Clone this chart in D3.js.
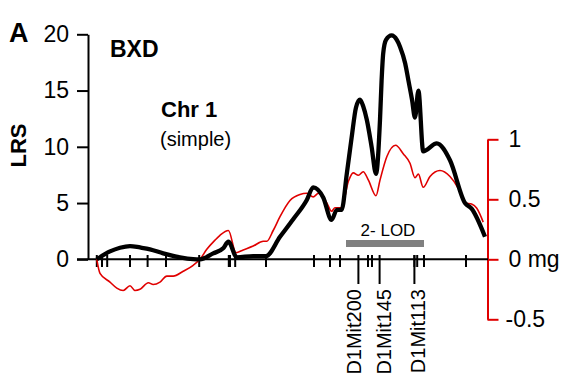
<!DOCTYPE html>
<html><head><meta charset="utf-8">
<script src="https://cdn.jsdelivr.net/npm/d3@7"></script>
<style>body{margin:0;background:#fff}svg{display:block}text{font-family:"Liberation Sans",Arial,Helvetica,sans-serif}</style>
</head><body>
<svg id="chart" width="567" height="387"></svg>
<script>
// ---- data (position along Chr 1 in cM) ----
const lrsCM = [2.2,5.5,8.0,10.5,13.0,15.5,18.8,23.0,26.3,28.0,31.3,33.8,35.1,37.2,41.3,44.5,48.0,51.3,54.7,56.3,58.8,60.9,62.2,63.4,64.7,65.9,67.0,68.0,68.8,69.7,70.9,72.0,73.0,73.4,73.8,74.5,75.9,77.2,78.0,79.3,80.1,81.0,81.75,82.6,83.8,87.2,90.5,94.25,95.9,99.25];
const lrsValues = [0,0.7,1.03,1.18,1.05,0.89,0.53,0.18,0.02,0,0.53,0.98,1.56,0.18,0.29,0.29,2.0,3.56,5.27,6.4,5.5,3.5,4.4,4.4,7.6,10.8,13.5,14.2,13.6,12.4,10.0,7.6,12.4,15.9,18.3,19.5,19.9,19.5,18.9,17.4,15.9,14.2,12.6,15.0,9.6,10.3,8.8,5.0,4.5,2.0];
const mgCM = [2.2,3.0,5.5,7.2,8.8,10.5,11.75,13.0,15.1,16.3,18.0,19.7,21.3,23.8,26.3,28.0,29.7,31.75,33.0,35.1,37.0,38.8,41.3,43.8,44.7,46.3,48.0,50.5,53.0,54.7,56.3,57.6,59.7,60.9,61.75,63.4,65.1,66.3,67.6,68.8,70.1,72.0,73.0,74.7,76.9,78.8,80.5,81.75,82.6,83.8,85.5,88.0,90.5,92.6,94.25,95.9,97.2,98.8];
const mgValues = [0,-0.117,-0.19,-0.24,-0.26,-0.22,-0.26,-0.25,-0.195,-0.21,-0.19,-0.14,-0.14,-0.10,-0.05,0,0.083,0.16,0.2,0.24,0.055,0.078,0.11,0.15,0.15,0.24,0.355,0.49,0.54,0.55,0.52,0.55,0.47,0.40,0.43,0.43,0.65,0.72,0.70,0.73,0.66,0.53,0.66,0.855,0.95,0.88,0.80,0.68,0.71,0.60,0.69,0.74,0.69,0.59,0.47,0.46,0.425,0.31];
const markerCM = [2.2,3.5,4.8,10.5,14.9,19.5,27.8,35.2,35.5,36.8,44.5,56.5,60.5,63.0,70.0,71.0,81.6,82.3,84.0,94.5];
const namedMarkers = ["D1Mit200","D1Mit145","D1Mit113"];
const namedMarkerCM = [67.6,72.9,81.6];
const lrsTicks = [0,5,10,15,20];
const mgTicks = [-0.5,0,0.5,1];
const mgTickLabels = ["-0.5","0 mg","0.5","1"];
const lodInterval = [64.5,84.0];

// ---- drawing ----
const svg = d3.select("#chart");
const red = "#e00000";
const x = d3.scaleLinear().domain([0,100]).range([88,488]);
const yL = d3.scaleLinear().domain([0,20]).range([259.3,34.3]);
const yR = d3.scaleLinear().domain([-0.5,1]).range([319.3,139.3]);

// left axis
const gL = svg.append("g").attr("transform","translate(88,0)")
  .call(d3.axisLeft(yL).tickValues(lrsTicks).tickSize(11).tickSizeOuter(0).tickPadding(8));
gL.selectAll("path,line").attr("stroke","#000").attr("stroke-width",2);
gL.selectAll("text").attr("font-size",23).attr("fill","#000").style("font-family","'Liberation Sans',Arial,sans-serif");

// right axis
const gR = svg.append("g").attr("transform","translate(487.5,0)")
  .call(d3.axisRight(yR).tickValues(mgTicks).tickSize(11).tickSizeOuter(0).tickPadding(10)
    .tickFormat((d,i)=>mgTickLabels[mgTicks.indexOf(d)]));
gR.selectAll("path,line").attr("stroke",red).attr("stroke-width",2);
gR.selectAll("text").attr("font-size",23).attr("fill","#000").style("font-family","'Liberation Sans',Arial,sans-serif")
  .attr("dx",d=>d<0?-3:0);

// x axis line
svg.append("line").attr("x1",77).attr("x2",488).attr("y1",yL(0)).attr("y2",yL(0))
  .attr("stroke","#000").attr("stroke-width",2);

// marker ticks
svg.append("g").selectAll("line").data(markerCM).join("line")
  .attr("x1",d=>x(d)).attr("x2",d=>x(d)).attr("y1",255).attr("y2",267)
  .attr("stroke","#000").attr("stroke-width",2);
svg.append("g").selectAll("line").data(namedMarkerCM).join("line")
  .attr("x1",d=>x(d)).attr("x2",d=>x(d)).attr("y1",255).attr("y2",284)
  .attr("stroke","#000").attr("stroke-width",2);
// named marker labels (shift left to avoid overlap)
const labX = namedMarkerCM.map(d=>x(d)+11);
for (let i=labX.length-2;i>=0;i--) if (labX[i] > labX[i+1]-30) labX[i] = labX[i+1]-30;
svg.append("g").selectAll("text").data(namedMarkers).join("text")
  .attr("transform",(d,i)=>`translate(${labX[i]},289) rotate(-90)`)
  .attr("text-anchor","end").attr("font-size",20).text(d=>d);

// 2-LOD interval
svg.append("rect").attr("x",x(lodInterval[0])).attr("width",x(lodInterval[1])-x(lodInterval[0]))
  .attr("y",240).attr("height",7).attr("fill","#808080");
svg.append("text").attr("x",(x(lodInterval[0])+x(lodInterval[1]))/2+3).attr("y",236)
  .attr("text-anchor","middle").attr("font-size",17).text("2- LOD");

// red curve (mg)
const mgData = mgCM.map((c,i)=>[c,mgValues[i]]);
svg.append("path").datum(mgData)
  .attr("d",d3.line().x(d=>x(d[0])).y(d=>yR(d[1])).curve(d3.curveMonotoneX))
  .attr("fill","none").attr("stroke",red).attr("stroke-width",1.6).attr("stroke-linejoin","round");

// black curve (LRS)
const lrsData = lrsCM.map((c,i)=>[c,lrsValues[i]]);
svg.append("path").datum(lrsData)
  .attr("d",d3.line().x(d=>x(d[0])).y(d=>yL(d[1])).curve(d3.curveMonotoneX))
  .attr("fill","none").attr("stroke","#000").attr("stroke-width",4.3).attr("stroke-linejoin","round");

// titles
svg.append("text").attr("x",9).attr("y",42).attr("font-size",27).attr("font-weight","bold").text("A");
svg.append("text").attr("x",110).attr("y",57).attr("font-size",23).attr("font-weight","bold").text("BXD");
svg.append("text").attr("x",161).attr("y",117).attr("font-size",22).attr("font-weight","bold").text("Chr 1");
svg.append("text").attr("x",160).attr("y",146).attr("font-size",20).text("(simple)");
svg.append("text").attr("transform","translate(25.5,145.5) rotate(-90)").attr("text-anchor","middle")
  .attr("font-size",22).attr("font-weight","bold").text("LRS");
</script>
</body></html>
